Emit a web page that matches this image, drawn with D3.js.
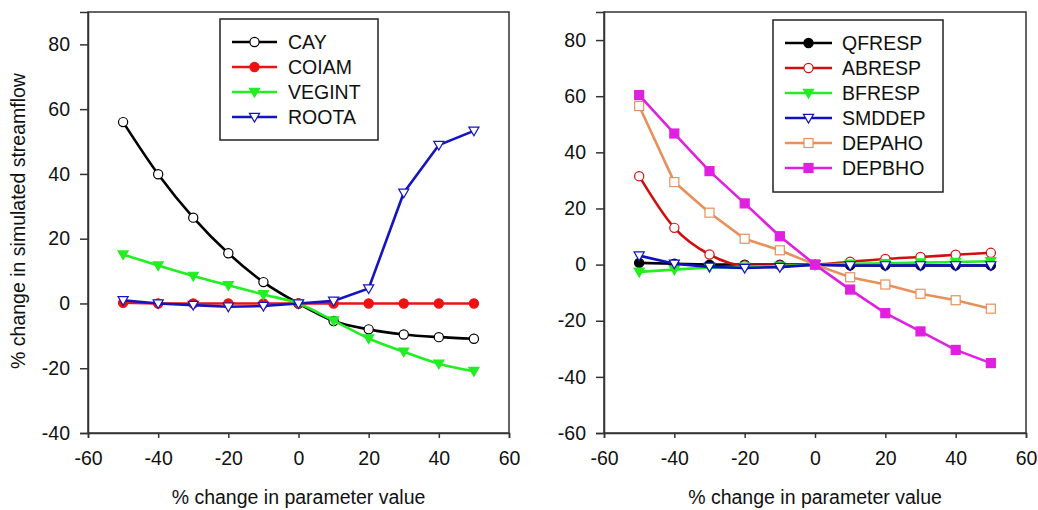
<!DOCTYPE html>
<html><head><meta charset="utf-8">
<script src="https://cdn.jsdelivr.net/npm/d3@7"></script>
<style>body{margin:0;background:#fff}svg{display:block}text{font-family:"Liberation Sans",Arial,sans-serif;fill:#111}</style>
</head><body>
<svg id="c" width="1038" height="510"></svg>
<script>
const xVals = [-50,-40,-30,-20,-10,0,10,20,30,40,50];
const xTicks = [-60,-40,-20,0,20,40,60];
const leftYTicks = [-40,-20,0,20,40,60,80];
const rightYTicks = [-60,-40,-20,0,20,40,60,80];

// left panel series
const CAY    = [56.0,39.9,26.5,15.5,6.6,0,-5.4,-8.0,-9.6,-10.4,-10.9];
const COIAM  = [0.2,0,0,0,0,0,0,0,0,0,0];
const VEGINT = [15.1,11.7,8.5,5.6,2.8,0,-5.3,-10.8,-14.9,-18.6,-20.9];
const ROOTA  = [1.0,0,-0.5,-1.0,-0.8,0,0.8,4.6,34.2,48.9,53.3];

// right panel series
const QFRESP = [0.6,0.3,0,0,0,0,-0.3,-0.3,-0.3,-0.3,-0.3];
const ABRESP = [31.5,13.1,3.6,-0.3,-0.3,0,1.0,2.0,2.7,3.5,4.2];
const BFRESP = [-2.6,-1.8,-1.0,-0.8,-0.5,0,0.3,0.5,0.7,0.9,1.2];
const SMDDEP = [3.2,0.3,-0.8,-1.2,-0.9,0,-0.3,-0.3,-0.3,-0.3,-0.3];
const DEPAHO = [56.5,29.4,18.5,9.2,5.1,0,-4.5,-7.1,-10.4,-12.7,-15.7];
const DEPBHO = [60.4,46.7,33.3,21.8,10.1,0,-8.9,-17.3,-23.8,-30.4,-35.1];

const FS = 19.5;
const svg = d3.select("#c");

function panel(cfg){
  const x = d3.scaleLinear().domain([-60,60]).range([cfg.x0,cfg.x1]);
  const y = d3.scaleLinear().domain(cfg.yDomain).range([433,12]);
  const g = svg.append("g");
  g.append("rect").attr("x",cfg.x0).attr("y",12).attr("width",cfg.x1-cfg.x0).attr("height",421)
    .attr("fill","none").attr("stroke","#333").attr("stroke-width",1.5);
  const xa = g.append("g").attr("transform",`translate(0,433)`)
    .call(d3.axisBottom(x).tickValues(xTicks).tickSize(5).tickPadding(13).tickFormat(d=>String(d)));
  const ya = g.append("g").attr("transform",`translate(${cfg.x0},0)`)
    .call(d3.axisLeft(y).tickValues(cfg.yTicks).tickSize(8).tickPadding(10).tickFormat(d=>String(d)));
  [xa,ya].forEach(a=>{
    a.select(".domain").attr("stroke","#333").attr("stroke-width",1.5);
    a.selectAll(".tick line").attr("stroke","#333").attr("stroke-width",1.5);
    a.selectAll(".tick text").attr("font-size",FS).attr("fill","#111").attr("font-family","Liberation Sans, Arial, sans-serif");
  });
  g.append("text").attr("x",(cfg.x0+cfg.x1)/2).attr("y",504).attr("text-anchor","middle")
    .attr("font-size",FS).text("% change in parameter value");
  if(cfg.ytitle){
    g.append("text").attr("transform",`translate(25,221) rotate(-90)`).attr("text-anchor","middle")
      .attr("font-size",FS).text(cfg.ytitle);
  }
  cfg.series.forEach(s=>{
    const line = d3.line().x((d,i)=>x(xVals[i])).y(d=>y(d)).curve(s.smooth ? d3.curveMonotoneX : d3.curveLinear);
    g.append("path").attr("d",line(s.data)).attr("fill","none").attr("stroke",s.color).attr("stroke-width",2.6);
    s.data.forEach((v,i)=>drawMarker(g,s,x(xVals[i]),y(v)));
  });
  const L = cfg.legend;
  g.append("rect").attr("x",L.x).attr("y",L.y).attr("width",L.w).attr("height",L.h)
    .attr("fill","#fff").attr("stroke","#222").attr("stroke-width",1.5);
  cfg.series.forEach((s,i)=>{
    const yy = L.y + L.first + i*25;
    g.append("line").attr("x1",L.lx0).attr("x2",L.lx1).attr("y1",yy).attr("y2",yy)
      .attr("stroke",s.color).attr("stroke-width",2.6);
    drawMarker(g,s,(L.lx0+L.lx1)/2,yy);
    g.append("text").attr("x",L.tx).attr("y",yy).attr("dy","0.36em").attr("font-size",FS).text(s.name);
  });
}

function drawMarker(g,s,cx,cy){
  const fill = s.filled ? s.color : "#fff";
  if(s.shape==="circle"){
    g.append("circle").attr("cx",cx).attr("cy",cy).attr("r",4.6).attr("fill",fill).attr("stroke",s.color).attr("stroke-width",1.2);
  } else if(s.shape==="square"){
    g.append("rect").attr("x",cx-4.5).attr("y",cy-4.5).attr("width",9).attr("height",9).attr("fill",fill).attr("stroke",s.color).attr("stroke-width",1.2);
  } else if(s.shape==="tri"){
    const h=4.6;
    g.append("path").attr("d",`M${cx-h*1.1},${cy-h*0.8}L${cx+h*1.1},${cy-h*0.8}L${cx},${cy+h*1.1}Z`)
      .attr("fill",fill).attr("stroke",s.color).attr("stroke-width",1.2);
  }
}

panel({
  x0:88, x1:509, yDomain:[-40,90], yTicks:leftYTicks, ytitle:"% change in simulated streamflow",
  series:[
    {name:"CAY",data:CAY,color:"#000",shape:"circle",filled:false,smooth:true},
    {name:"COIAM",data:COIAM,color:"#ee1111",shape:"circle",filled:true},
    {name:"VEGINT",data:VEGINT,color:"#22ee22",shape:"tri",filled:true,smooth:true},
    {name:"ROOTA",data:ROOTA,color:"#1515c0",shape:"tri",filled:false}
  ],
  legend:{x:220,y:19,w:158,h:121,first:23,lx0:232,lx1:277,tx:288}
});

panel({
  x0:604, x1:1026, yDomain:[-60,90], yTicks:rightYTicks, ytitle:null,
  series:[
    {name:"QFRESP",data:QFRESP,color:"#000",shape:"circle",filled:true},
    {name:"ABRESP",data:ABRESP,color:"#d01010",shape:"circle",filled:false,smooth:true},
    {name:"BFRESP",data:BFRESP,color:"#22ee22",shape:"tri",filled:true},
    {name:"SMDDEP",data:SMDDEP,color:"#1010c0",shape:"tri",filled:false},
    {name:"DEPAHO",data:DEPAHO,color:"#e8905a",shape:"square",filled:false},
    {name:"DEPBHO",data:DEPBHO,color:"#e020e0",shape:"square",filled:true}
  ],
  legend:{x:773,y:20,w:170,h:172,first:23,lx0:785,lx1:832,tx:842}
});
</script>
</body></html>
